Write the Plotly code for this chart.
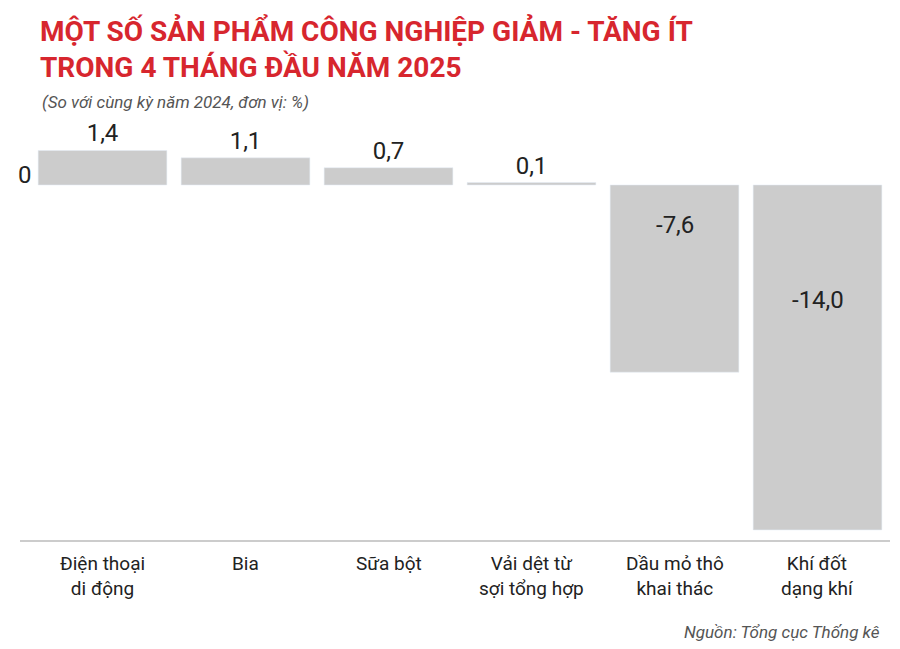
import plotly.graph_objects as go

categories = ["Điện thoại<br>di động", "Bia", "Sữa bột", "Vải dệt từ<br>sợi tổng hợp", "Dầu mỏ thô<br>khai thác", "Khí đốt<br>dạng khí"]
values = [1.4, 1.1, 0.7, 0.1, -7.6, -14.0]
labels = ["1,4", "1,1", "0,7", "0,1", "-7,6", "-14,0"]

OX, OY = 8, 8  # page offset of rendered figure
W, H = 900, 649
L, R, T, B = 31 - OX, 11 + OX, 115 - OY, 108 + OY

x = list(range(len(values)))
fig = go.Figure()
fig.add_bar(x=x, y=values, marker_color="#cccccc", width=0.9,
            text=[l if v >= 0 else "" for l, v in zip(labels, values)],
            textposition="outside",
            textfont=dict(family="Roboto", size=24, color="#222"),
            cliponaxis=False, hoverinfo="skip")

fig.update_layout(
    width=W, height=H, plot_bgcolor="white", paper_bgcolor="white",
    margin=dict(l=L, r=R, t=T, b=B), showlegend=False,
    font=dict(family="Roboto"),
    xaxis=dict(range=[-0.5, 5.5], showticklabels=False, showgrid=False, zeroline=False),
    yaxis=dict(range=[-14.45, 2.84], showticklabels=False, showgrid=False, zeroline=False),
)
pw, ph = W - L - R, H - T - B
def px(xp): return (xp - OX - L) / pw
def py(yp): return (H - (yp - OY) - B) / ph

anns = [
    dict(text="<b>MỘT SỐ SẢN PHẨM CÔNG NGHIỆP GIẢM - TĂNG ÍT<br>TRONG 4 THÁNG ĐẦU NĂM 2025</b>",
         x=px(38), y=py(12), align="left", xanchor="left", yanchor="top",
         font=dict(family="Roboto", size=28, color="#d7262e")),
    dict(text="<i>(So với cùng kỳ năm 2024, đơn vị: %)</i>", x=px(40), y=py(90),
         xanchor="left", yanchor="top", font=dict(size=17, color="#555")),
    dict(text="0", x=px(25), y=py(175), xanchor="center", yanchor="middle",
         font=dict(size=24, color="#222")),
    dict(text="<i>Nguồn: Tổng cục Thống kê</i>", x=px(882), y=py(632),
         xanchor="right", yanchor="middle", font=dict(size=17, color="#555")),
]
for a in anns:
    a.update(xref="paper", yref="paper", showarrow=False)
# negative value labels inside bars
neg_label_y = {4: 225, 5: 300}
for i, yp in neg_label_y.items():
    anns.append(dict(text=labels[i], x=i, xref="x", y=py(yp), yref="paper",
                     yanchor="middle", showarrow=False,
                     font=dict(family="Roboto", size=24, color="#222")))
for i, c in enumerate(categories):
    anns.append(dict(text=c, x=i, xref="x", y=py(550), yref="paper", yanchor="top",
                     showarrow=False, font=dict(size=19, color="#222")))
fig.update_layout(annotations=anns)
fig.add_shape(type="line", xref="paper", yref="paper", x0=px(20), x1=px(890),
              y0=0, y1=0, line=dict(color="#999", width=1))
fig.write_html("out.html")
